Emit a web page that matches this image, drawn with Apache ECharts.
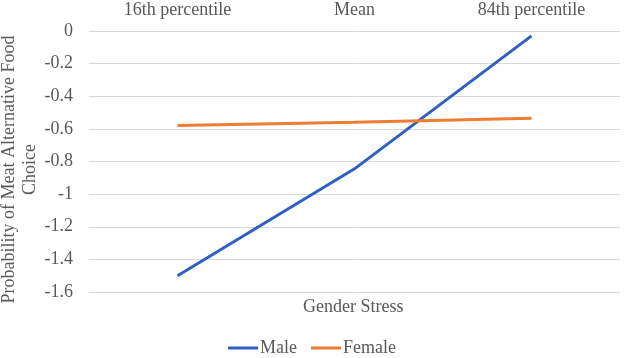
<!DOCTYPE html>
<html lang="en">

<head>
  <meta charset="UTF-8">
  <title>Gender Stress</title>
  <style>
    body { margin: 0; }
    #main {
      width: 624px;
      height: 358px;
    }
  </style>
</head>

<body>
  <div id="main"></div>
  <script src="https://cdn.jsdelivr.net/npm/echarts@6/dist/echarts.min.js"></script>
  <script>
    const myChart = echarts.init(document.getElementById('main'));

    // data
    const categories = ['16th percentile', 'Mean', '84th percentile'];
    const male = [-1.5, -0.845, -0.03];
    const female = [-0.58, -0.56, -0.535];

    const font = 'Liberation Serif';
    const grey = '#595959';

    const option = {
      textStyle: { fontFamily: font },
      title: {
        text: 'Gender Stress',
        left: 303,
        top: 298,
        padding: 0,
        textStyle: { fontFamily: font, fontSize: 18, fontWeight: 'normal', color: grey }
      },
      legend: {
        top: 334,
        left: 'center',
        icon: 'rect',
        itemWidth: 30,
        itemHeight: 3,
        itemGap: 14,
        textStyle: { fontFamily: font, fontSize: 18, color: grey, padding: [0, 0, 0, -3] },
        data: ['Male', 'Female']
      },
      grid: { left: 89, right: 4, top: 31, bottom: 66, outerBoundsMode: 'none' },
      xAxis: {
        type: 'category',
        position: 'top',
        data: categories,
        axisLine: { show: false },
        axisTick: { show: false },
        axisLabel: { fontFamily: font, fontSize: 18, color: grey, margin: 12 }
      },
      yAxis: {
        type: 'value',
        min: -1.6,
        max: 0,
        interval: 0.2,
        name: 'Probability of Meat Alternative Food\nChoice',
        nameLocation: 'middle',
        nameRotate: 90,
        nameGap: 48,
        nameMoveOverlap: false,
        nameTextStyle: {
          fontFamily: font, fontSize: 18, color: grey, lineHeight: 21,
          padding: [0, 16, 0, 0]
        },
        axisLabel: { fontFamily: font, fontSize: 18, color: grey, margin: 16 },
        splitLine: { lineStyle: { color: '#d9d9d9', width: 1 } }
      },
      series: [
        {
          name: 'Male',
          type: 'line',
          data: male,
          showSymbol: false,
          color: '#2f5fc4',
          lineStyle: { width: 3 }
        },
        {
          name: 'Female',
          type: 'line',
          data: female,
          showSymbol: false,
          color: '#ed7d31',
          lineStyle: { width: 3 }
        }
      ]
    };

    myChart.setOption(option);
  </script>
</body>

</html>
